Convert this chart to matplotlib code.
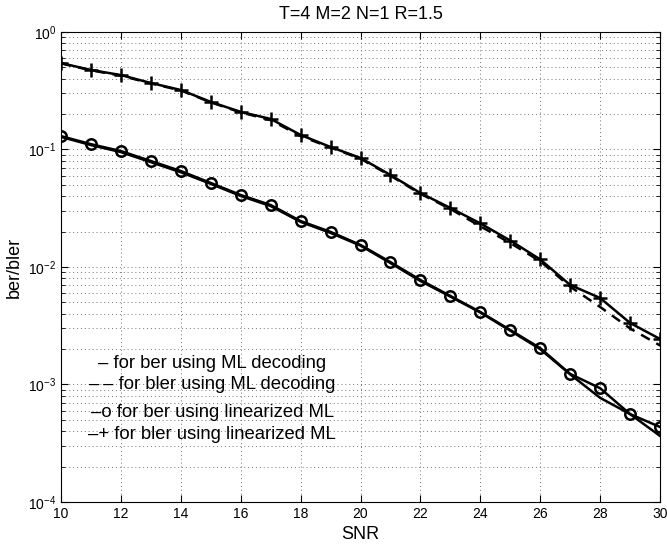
import numpy as np
import matplotlib
matplotlib.use('Agg')
import matplotlib.pyplot as plt
from matplotlib.ticker import LogLocator, NullFormatter, MultipleLocator

plt.rcParams['font.family'] = ['Liberation Sans', 'DejaVu Sans']

snr = [10, 11, 12, 13, 14, 15, 16, 17, 18, 19, 20,
       21, 22, 23, 24, 25, 26, 27, 28, 29, 30]

# ber, ML decoding (solid)
ber_ml = [0.128, 0.109, 0.095, 0.078, 0.064, 0.0510, 0.0402, 0.0330, 0.0242, 0.0195, 0.0152,
          0.0108, 0.0076, 0.0056, 0.0041, 0.00287, 0.00200, 0.00122, 0.00077, 0.00056, 0.000365]
# bler, ML decoding (dashed)
bler_ml = [0.540, 0.472, 0.425, 0.365, 0.318, 0.252, 0.207, 0.178, 0.130, 0.104, 0.0835,
           0.0598, 0.0420, 0.0312, 0.0222, 0.0160, 0.0112, 0.0068, 0.00457, 0.00300, 0.00215]
# ber, linearized ML (solid with o)
ber_lin = [0.130, 0.111, 0.097, 0.0798, 0.0656, 0.0519, 0.0410, 0.0337, 0.0246, 0.0199, 0.0154,
           0.0110, 0.00776, 0.00567, 0.00414, 0.00291, 0.00204, 0.00123, 0.00093, 0.00056, 0.000435]
# bler, linearized ML (solid with +)
bler_lin = [0.544, 0.475, 0.430, 0.368, 0.321, 0.254, 0.209, 0.182, 0.133, 0.105, 0.0847,
            0.0607, 0.0426, 0.0318, 0.0235, 0.0168, 0.0116, 0.00703, 0.00545, 0.00334, 0.00244]

labels = ['\u2013 for ber using ML decoding',
          '\u2013\u2009\u2013 for bler using ML decoding',
          '\u2013o for ber using linearized ML',
          '\u2013+ for bler using linearized ML']
label_y = [1.52e-3, 9.9e-4, 5.8e-4, 3.72e-4]

fig = plt.figure(figsize=(6.67, 5.47), dpi=100)
ax = fig.add_axes([0.0915, 0.0823, 0.898, 0.8592])

ax.semilogy(snr, ber_ml, 'k-', lw=1.8)
ax.semilogy(snr, bler_ml, 'k--', lw=1.8, dashes=(4, 3))
ax.semilogy(snr, ber_lin, 'k-o', lw=1.8, ms=7.5, mfc='none', mew=1.8)
ax.semilogy(snr, bler_lin, 'k-+', lw=1.8, ms=10, mew=1.8)

ax.set_xlim(10, 30)
ax.set_ylim(1e-4, 1)
ax.xaxis.set_major_locator(MultipleLocator(2))
ax.yaxis.set_major_locator(LogLocator(base=10, numticks=10))
ax.yaxis.set_minor_locator(LogLocator(base=10, subs=np.arange(2, 10), numticks=20))
ax.yaxis.set_minor_formatter(NullFormatter())

ax.grid(True, which='major', linestyle=(0, (1, 3)), color='0.45', lw=0.7)
ax.grid(True, which='minor', axis='y', linestyle=(0, (1, 3)), color='0.45', lw=0.7)
ax.tick_params(which='both', direction='in', top=True, right=True, labelsize=10)
ax.tick_params(which='major', length=5)
ax.tick_params(which='minor', length=3)

ax.set_title('T=4 M=2 N=1 R=1.5', fontsize=13, pad=9)
ax.set_xlabel('SNR', fontsize=13)
ax.set_ylabel('ber/bler', fontsize=13)

for t, yv in zip(labels, label_y):
    ax.text(15.05, yv, t, ha='center', va='center', fontsize=13.3)

fig.savefig('out.png', dpi=100)
